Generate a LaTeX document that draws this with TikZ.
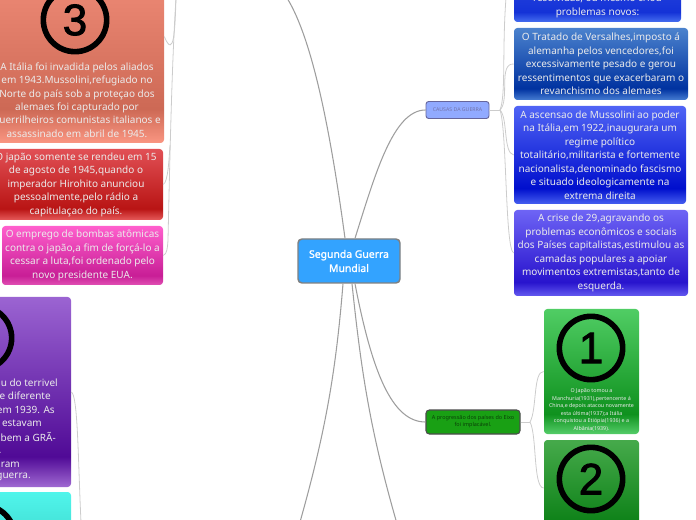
\documentclass[tikz,border=0pt]{standalone}
\usepackage{fontspec}
\setmainfont{Noto Sans}
\newfontfamily\digitfont[FakeBold=2]{Liberation Sans}
\newfontfamily\headfont[FakeBold=1.4]{Noto Sans}
\usetikzlibrary{calc}

% one vertical shading per box: top, darkest band near the foot, bottom edge
\newcommand{\boxshade}[4]{%
  \definecolor{#1T}{RGB}{#2}\definecolor{#1D}{RGB}{#3}\definecolor{#1B}{RGB}{#4}%
  \pgfdeclareverticalshading{#1}{100bp}{color(0bp)=(#1B); color(25bp)=(#1B); color(33bp)=(#1D); color(75bp)=(#1T); color(100bp)=(#1T)}}
\boxshade{salmonfill}{250,150,130}{205,105,85}{250,150,130}
\boxshade{redfill}{225,80,85}{185,20,20}{230,90,90}
\boxshade{pinkfill}{255,95,205}{200,30,150}{225,80,180}
\boxshade{purplefill}{155,100,210}{80,10,150}{160,105,210}
\boxshade{cyanfill}{80,245,235}{60,215,205}{80,245,235}
\boxshade{bluefill}{50,80,225}{20,50,215}{70,110,240}
\boxshade{navyfill}{75,130,205}{0,50,160}{70,125,210}
\boxshade{royalfill}{80,100,245}{0,15,205}{70,95,240}
\boxshade{violetfill}{110,100,245}{40,20,205}{100,90,240}
\boxshade{greenfill}{80,205,100}{15,145,30}{85,205,105}
\boxshade{darkgreenfill}{70,170,75}{15,130,25}{15,130,25}

\definecolor{centralblue}{RGB}{51,163,255}
\definecolor{causasblue}{RGB}{145,170,255}
\definecolor{eixogreen}{RGB}{25,160,20}
\def\px{0.75pt}

\begin{document}
\begin{tikzpicture}[
    x=0.75pt, y=-0.75pt,
    font=\fontsize{7.5}{10.1}\selectfont,
    colourbox/.style={shade, rounded corners=2.5pt, inner sep=0pt, align=center, text=white!92!black},
    boxtext/.style={align=center, text=white!92!black, inner sep=0pt},
    tinytext/.style={boxtext, font=\fontsize{4}{5.7}\selectfont},
    numbercircle/.style={circle, draw=black, line width=4.2pt, minimum size=47.5pt, inner sep=0pt, font=\digitfont\fontsize{33}{33}\selectfont},
    mainlink/.style={draw=black!38, line width=0.8pt},
    sidelink/.style={draw=black!20, line width=0.6pt},
]
\useasboundingbox (0,0) rectangle (696,520);

% ===== CENTRE =====
\node[rounded corners=3pt, draw=black!50, line width=1.1pt, fill=centralblue, text=white, align=center, inner sep=0pt,
      minimum width=102*\px, minimum height=44*\px, font=\headfont\fontsize{7.8}{10.6}\selectfont] (central) at (349,261) {Segunda Guerra\\Mundial};

% ===== RIGHT: causes =====
\node[rounded corners=2pt, draw=black!65!blue!60, line width=0.7pt, fill=causasblue, inner sep=0pt, text=black!60!blue!55,
      minimum width=63*\px, minimum height=17*\px, font=\fontsize{3.9}{5}\selectfont] (causas) at (457.5,110) {CAUSAS DA GUERRA};
\coordinate (causasfork) at (500,110);
\coordinate (bluetop) at (506,-2);

\node[colourbox, shading=bluefill, minimum width=167*\px, minimum height=62*\px] (blueboxa) at (597.5,-9) {};
\node[boxtext] (blueboxatext) at (597.5,6) {resolvidas, ou mesmo criou\\problemas novos:};
\node[colourbox, shading=navyfill, minimum width=174*\px, minimum height=72*\px] (versalhes) at (601,64)
    {O Tratado de Versalhes,imposto á\\alemanha pelos vencedores,foi\\excessivamente pesado e gerou\\ressentimentos que exacerbaram o\\revanchismo dos alemaes};
\node[colourbox, shading=royalfill, minimum width=172*\px, minimum height=98*\px] (mussolini) at (600,155)
    {A ascensao de Mussolini ao poder\\na Itália,em 1922,inaugurara um\\regime político\\totalitário,militarista e fortemente\\nacionalista,denominado fascismo\\e situado ideologicamente na\\extrema direita};
\node[colourbox, shading=violetfill, minimum width=174*\px, minimum height=86*\px] (crise) at (601,253)
    {A crise de 29,agravando os\\problemas econômicos e sociais\\dos Países capitalistas,estimulou as\\camadas populares a apoiar\\movimentos extremistas,tanto de\\esquerda.};

\draw[mainlink] ($(central.north)+(6,0)$) .. controls (375,175) and (393,110) .. (causas.west);
\draw[sidelink] (causas.east) -- (causasfork);
\draw[sidelink] (causasfork) .. controls (506,95) and (502,50) .. (bluetop);
\draw[sidelink] (causasfork) .. controls (510,100) and (498,63) .. (versalhes.west);
\draw[sidelink] (causasfork) .. controls (508,118) and (503,153) .. (mussolini.west);
\draw[sidelink] (causasfork) .. controls (507,130) and (505,250) .. (crise.west);

% ===== RIGHT: axis advance =====
\node[rounded corners=2.5pt, draw=black!70, line width=0.8pt, fill=eixogreen, inner sep=0pt, align=center, text=black!60!eixogreen,
      minimum width=94*\px, minimum height=24*\px, font=\fontsize{4.1}{5.3}\selectfont] (eixo) at (473,422) {A progressão dos países do Eixo\\foi implacável.};
\coordinate (eixofork) at (530,422);

\node[colourbox, shading=greenfill, minimum width=95*\px, minimum height=125*\px] (greenboxa) at (591.5,371.5) {};
\node[numbercircle] (numberone) at (591,348) {1};
\node[tinytext] (greenboxatext) at (591.5,410) {O Japão tomou a\\Manchuria(1931),pertencente á\\China,e depois atacou novamente\\esta última(1937);a Itália\\conquistou a Etiópia(1936) e a\\Albânia(1939).};
\node[colourbox, shading=darkgreenfill, minimum width=95*\px, minimum height=96*\px] (greenboxb) at (591.5,488) {};
\node[numbercircle] (numbertwo) at (591,479) {2};

\draw[mainlink] ($(central.south)+(6,0)$) .. controls (372,372) and (392,422) .. (eixo.west);
\draw[sidelink] (eixo.east) -- (eixofork);
\draw[sidelink] (eixofork) .. controls (537,410) and (533,371) .. (greenboxa.west);
\draw[sidelink] (eixofork) .. controls (537,435) and (533,488) .. (greenboxb.west);

% ===== BOTTOM: branches leaving the page =====
\coordinate (bottomleft) at (300,522);
\coordinate (bottomright) at (396.5,522);
\draw[mainlink] ($(central.south)+(-6,0)$) .. controls (336,370) and (326,430) .. (bottomleft);
\draw[mainlink] ($(central.south)+(3,0)$) .. controls (361,370) and (370,430) .. (bottomright);

% ===== LEFT: end of the war =====
\coordinate (topleft) at (287,-2);
\draw[mainlink] ($(central.north)+(-4,0)$) .. controls (331,135) and (313,40) .. (topleft);

\node[colourbox, shading=salmonfill, minimum width=174*\px, minimum height=213*\px] (italia) at (77,36.5) {};
\node[numbercircle] (numberthree) at (75,20) {3};
\node[boxtext] (italiatext) at (77,100) {A Itália foi invadida pelos aliados\\em 1943.Mussolini,refugiado no\\Norte do país sob a proteçao dos\\alemaes foi capturado por\\guerrilheiros comunistas italianos e\\assassinado em abril de 1945.};
\node[colourbox, shading=redfill, minimum width=174*\px, minimum height=71*\px] (japao) at (76,184.5)
    {O japão somente se rendeu em 15\\de agosto de 1945,quando o\\imperador Hirohito anunciou\\pessoalmente,pelo rádio a\\capitulaçao do país.};
\node[colourbox, shading=pinkfill, minimum width=161*\px, minimum height=59*\px] (bombas) at (82.5,255.5)
    {O emprego de bombas atômicas\\contra o japão,a fim de forçá-lo a\\cessar a luta,foi ordenado pelo\\novo presidente EUA.};

\coordinate (leftstem) at (176,-2);
\coordinate (japaostem) at (170,145);
\coordinate (bombasstem) at (168,240);
\draw[sidelink] (leftstem) .. controls (172,60) and (170,150) .. (bombasstem) .. controls (167.5,248) and (167,254) .. (bombas.east);
\draw[sidelink] (leftstem) .. controls (175,30) and (174,60) .. (italia.east);
\draw[sidelink] (japaostem) .. controls (169,160) and (168,182) .. (japao.east);

% ===== LEFT: start of the war =====
\node[colourbox, shading=purplefill, minimum width=100*\px, minimum height=190*\px] (purplebox) at (21,392) {};
\node[numbercircle] (numberfour) at (-20,338) {};
\foreach \part/\edge/\row in {iu do terrivel/58/383, e diferente/51/396, em 1939. As/55/410, estavam/42/423, bem a GRÃ-/56/437, A/1/450, iram/20/464, guerra./31/477} {
    \node[boxtext, anchor=east] at (\edge,\row) {\part};
}
\node[colourbox, shading=cyanfill, minimum width=100*\px, minimum height=68*\px] (cyanbox) at (21,526) {};
\node[numbercircle] (numberfive) at (-17,537) {};

\coordinate (leftfoot) at (81,522);
\draw[sidelink] (purplebox.east) .. controls (78,395) and (78,460) .. (leftfoot);

\end{tikzpicture}
\end{document}
